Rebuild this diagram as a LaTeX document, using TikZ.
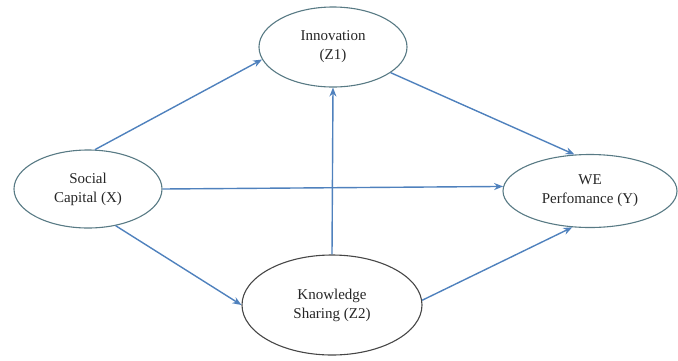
\documentclass[tikz,border=0pt]{standalone}
\usepackage{fontspec}
\setmainfont{Liberation Serif}
\usetikzlibrary{shapes.geometric,arrows.meta}
\definecolor{linkblue}{RGB}{79,129,189}
\definecolor{rimteal}{RGB}{88,122,132}
\definecolor{rimgray}{RGB}{70,70,70}

\begin{document}
\begin{tikzpicture}[
    x=1pt, y=-1pt,
    var/.style={ellipse, draw=rimteal, line width=1.1pt, inner sep=0pt, align=center,
                font=\fontsize{15}{19}\selectfont, text=black!85},
    arr/.style={-{Stealth[length=9pt,width=7pt]}, line width=1.4pt, linkblue}
]
\useasboundingbox (0,0) rectangle (678,360);

\node[var, minimum width=148pt, minimum height=78pt] (sc) at (88,189) {Social\\Capital (X)};
\node[var, minimum width=148pt, minimum height=80pt] (inn) at (333,47) {Innovation\\(Z1)};
\node[var, minimum width=174pt, minimum height=73pt] (we) at (590,191) {WE\\Perfomance (Y)};
\node[var, draw=rimgray, minimum width=180pt, minimum height=100pt] (ks) at (332,305) {Knowledge\\Sharing (Z2)};

\draw[arr] (sc.80) -- (inn.190);
\draw[arr] (sc.east) -- (we.177);
\draw[arr] (sc.307) -- (ks.west);
\draw[arr] (ks.north) -- (inn.south);
\draw[arr] (inn.336) -- (we.113);
\draw[arr] (ks.3) -- (we.244);
\end{tikzpicture}
\end{document}
